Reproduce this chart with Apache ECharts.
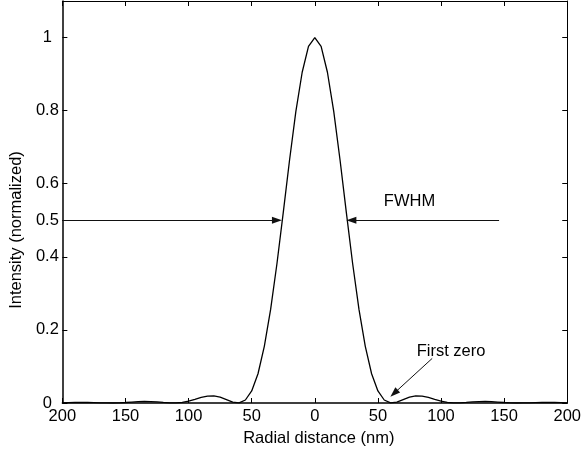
<!DOCTYPE html>
<html>
<head>
<meta charset="utf-8">
<script src="https://cdn.jsdelivr.net/npm/echarts@6/dist/echarts.min.js"></script>
<style>
html,body{margin:0;padding:0;background:#fff;}
#chart{width:584px;height:455px;}
</style>
</head>
<body>
<div id="chart"></div>
<script>
// Radial distance (nm), sampled every 5 nm
const distances = [-200,-195,-190,-185,-180,-175,-170,-165,-160,-155,-150,-145,-140,-135,-130,-125,-120,-115,-110,-105,-100,-95,-90,-85,-80,-75,-70,-65,-60,-55,-50,-45,-40,-35,-30,-25,-20,-15,-10,-5,0,5,10,15,20,25,30,35,40,45,50,55,60,65,70,75,80,85,90,95,100,105,110,115,120,125,130,135,140,145,150,155,160,165,170,175,180,185,190,195,200];
// Normalized intensity
const intensity = [0.0006,0.0011,0.0014,0.0016,0.0014,0.0010,0.0005,0.0001,0.0000,0.0005,0.0014,0.0025,0.0036,0.0041,0.0039,0.0029,0.0015,0.0003,0.0001,0.0016,0.0050,0.0100,0.0152,0.0188,0.0192,0.0158,0.0092,0.0025,0.0002,0.0082,0.033,0.080,0.155,0.256,0.381,0.521,0.665,0.798,0.905,0.976,1.000,0.976,0.905,0.798,0.665,0.521,0.381,0.256,0.155,0.080,0.033,0.0082,0.0002,0.0025,0.0092,0.0158,0.0192,0.0188,0.0152,0.0100,0.0050,0.0016,0.0001,0.0003,0.0015,0.0029,0.0039,0.0041,0.0036,0.0025,0.0014,0.0005,0.0000,0.0001,0.0005,0.0010,0.0014,0.0016,0.0014,0.0011,0.0006];
const xTickValues = [-200,-150,-100,-50,0,50,100,150,200];
const yTickValues = [0,0.2,0.4,0.5,0.6,0.8,1];
// Annotations (data coordinates)
const fwhmLeftLine = [[-200,0.5],[-30,0.5]];
const fwhmRightLine = [[146,0.5],[29,0.5]];
const firstZeroArrow = [[93,0.122],[62.8,0.0265]];
const fwhmLabel = [54.3,0.552];
const firstZeroLabel = [80.3,0.142];

const FONT = '"Liberation Sans", Arial, Helvetica, sans-serif';
const chart = echarts.init(document.getElementById('chart'), null, {renderer:'canvas'});
const labelStyle = {color:'#000', fontFamily:FONT, fontSize:16.5};

chart.setOption({
  animation:false,
  backgroundColor:'#fff',
  grid:{left:60, right:16, top:1, bottom:52, containLabel:false},
  xAxis:[{
    type:'value', min:-200, max:200, interval:50,
    position:'bottom',
    name:'Radial distance (nm)', nameLocation:'middle', nameGap:24,
    nameTextStyle:Object.assign({padding:[0,0,0,8]}, labelStyle),
    axisLine:{show:true, onZero:false, lineStyle:{color:'#000', width:1.5}},
    axisTick:{show:true, inside:true, length:5, customValues:xTickValues, lineStyle:{color:'#000', width:1}},
    axisLabel:Object.assign({margin:5, customValues:xTickValues, formatter:v=>String(Math.abs(v))}, labelStyle),
    splitLine:{show:false}
  },{
    type:'value', min:-200, max:200, interval:50,
    position:'top',
    axisLine:{show:true, onZero:false, lineStyle:{color:'#000', width:1}},
    axisTick:{show:true, inside:true, length:5, customValues:xTickValues, lineStyle:{color:'#000', width:1}},
    axisLabel:{show:false},
    splitLine:{show:false}
  }],
  yAxis:[{
    type:'value', min:0, max:1.1,
    position:'left',
    name:'Intensity (normalized)', nameLocation:'middle', nameGap:33, nameRotate:90,
    nameTextStyle:Object.assign({padding:[0,56,0,0]}, labelStyle),
    axisLine:{show:true, onZero:false, lineStyle:{color:'#000', width:1.5}},
    axisTick:{show:true, inside:true, length:5, customValues:yTickValues, lineStyle:{color:'#000', width:1}},
    axisLabel:Object.assign({margin:15, align:'center', customValues:yTickValues, formatter:v=>String(v)}, labelStyle),
    splitLine:{show:false}
  },{
    type:'value', min:0, max:1.1,
    position:'right',
    axisLine:{show:true, onZero:false, lineStyle:{color:'#000', width:1}},
    axisTick:{show:true, inside:true, length:5, customValues:yTickValues, lineStyle:{color:'#000', width:1}},
    axisLabel:{show:false},
    splitLine:{show:false}
  }],
  series:[{
    type:'line',
    xAxisIndex:0, yAxisIndex:0,
    data:distances.map((d,i)=>[d,intensity[i]]),
    showSymbol:false, symbol:'none', smooth:false,
    lineStyle:{color:'#000', width:1.3},
    silent:true,
    markLine:{
      silent:true, animation:false,
      symbol:['none','triangle'], symbolSize:[7,10],
      lineStyle:{color:'#111', width:1, type:'solid'},
      label:{show:false},
      data:[
        [{coord:fwhmLeftLine[0]},{coord:fwhmLeftLine[1]}],
        [{coord:fwhmRightLine[0]},{coord:fwhmRightLine[1]}],
        [{coord:firstZeroArrow[0]},{coord:firstZeroArrow[1]}]
      ]
    },
    markPoint:{
      silent:true, animation:false,
      symbol:'circle', symbolSize:1,
      itemStyle:{color:'rgba(0,0,0,0)'},
      label:Object.assign({show:true, position:'right', distance:0}, labelStyle),
      data:[
        {coord:fwhmLabel, label:{formatter:'FWHM'}},
        {coord:firstZeroLabel, label:{formatter:'First zero'}}
      ]
    }
  }]
});
</script>
</body>
</html>
